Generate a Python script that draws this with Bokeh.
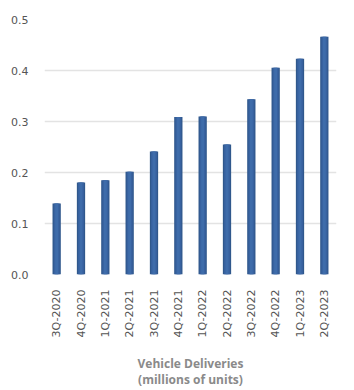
from bokeh.plotting import figure
from bokeh.models import Range1d, NumeralTickFormatter, FixedTicker
from bokeh.embed import file_html
from bokeh.resources import INLINE
import math

quarters = ["3Q-2020", "4Q-2020", "1Q-2021", "2Q-2021", "3Q-2021", "4Q-2021",
            "1Q-2022", "2Q-2022", "3Q-2022", "4Q-2022", "1Q-2023", "2Q-2023"]
deliveries = [0.1393, 0.1806, 0.1848, 0.2013, 0.2413, 0.3086,
              0.3100, 0.2547, 0.3438, 0.4053, 0.4229, 0.4661]
y_ticks = [0.0, 0.1, 0.2, 0.3, 0.4, 0.5]
x_title = "Vehicle Deliveries\n(millions of units)"

p = figure(width=354, height=390, x_range=quarters, y_range=Range1d(0, 0.5),
           output_backend="svg", toolbar_location=None,
           min_border_left=44, min_border_right=18, min_border_top=19, min_border_bottom=10)
p.outline_line_color = None
p.background_fill_color = "white"
p.border_fill_color = "white"

p.vbar(x=quarters, top=deliveries, width=0.34, fill_color="#30588c", line_color=None)
p.vbar(x=quarters, top=deliveries, width=0.24, fill_color="#3862a0", line_color=None)
p.vbar(x=quarters, top=deliveries, width=0.12, fill_color="#3e6caa", line_color=None)

p.yaxis.ticker = FixedTicker(ticks=y_ticks)
p.yaxis.formatter = NumeralTickFormatter(format="0.0")
for ax in (p.xaxis, p.yaxis):
    ax.axis_line_color = None
    ax.major_tick_line_color = None
    ax.minor_tick_line_color = None
    ax.major_label_text_font = "DejaVu Sans"
    ax.major_label_text_font_size = "11px"
    ax.major_label_text_color = "#555555"
p.yaxis.major_label_standoff = 10
p.xaxis.major_label_orientation = math.pi / 2
p.xaxis.major_label_standoff = 9
p.xaxis.axis_label = x_title
p.xaxis.axis_label_text_font = "Open Sans"
p.xaxis.axis_label_text_font_style = "bold"
p.xaxis.axis_label_text_font_size = "12px"
p.xaxis.axis_label_text_color = "#8a8a8a"
p.xaxis.axis_label_text_line_height = 0.9
p.xaxis.axis_label_standoff = 15
p.xaxis.axis_label_text_align = "center"

p.xgrid.grid_line_color = None
p.ygrid.grid_line_color = "#e3e3e3"
p.ygrid.grid_line_width = 1.5

open("out.html", "w").write(file_html(p, INLINE))
